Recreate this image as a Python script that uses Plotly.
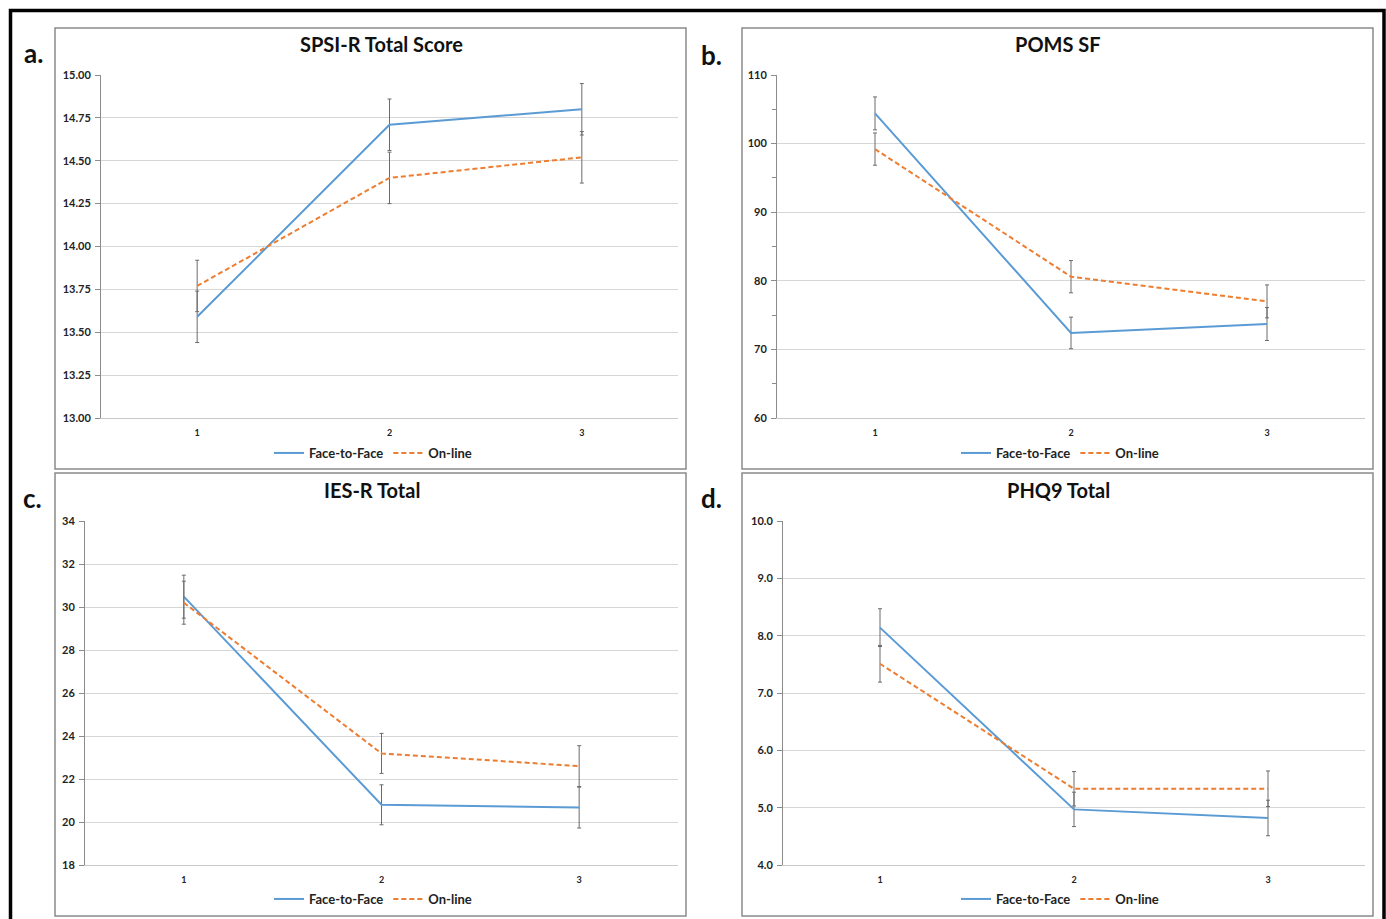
import plotly.graph_objects as go

W, H = 1386, 919

time_points = [1, 2, 3]
series_names = ["Face-to-Face", "On-line"]

# Panel a: SPSI-R Total Score
spsi_f2f = [13.59, 14.71, 14.80]
spsi_f2f_err = [0.15, 0.15, 0.15]
spsi_online = [13.77, 14.40, 14.52]
spsi_online_err = [0.15, 0.15, 0.15]

# Panel b: POMS SF
poms_f2f = [104.4, 72.4, 73.7]
poms_f2f_err = [2.4, 2.3, 2.4]
poms_online = [99.2, 80.6, 77.0]
poms_online_err = [2.35, 2.35, 2.4]

# Panel c: IES-R Total
ies_f2f = [30.48, 20.80, 20.67]
ies_f2f_err = [1.0, 0.93, 0.95]
ies_online = [30.20, 23.19, 22.60]
ies_online_err = [1.0, 0.93, 0.95]

# Panel d: PHQ9 Total
phq_f2f = [8.14, 4.97, 4.82]
phq_f2f_err = [0.33, 0.30, 0.31]
phq_online = [7.51, 5.33, 5.33]
phq_online_err = [0.32, 0.30, 0.31]

titles = ["SPSI-R Total Score", "POMS SF", "IES-R Total", "PHQ9 Total"]
letters = ["a.", "b.", "c.", "d."]

BLUE = "#5B9BD5"
ORANGE = "#ED7D31"
FONT = "Lato"


def px(x):
    return x / W


def py(y):
    return 1 - y / H


panels = [
    dict(f2f=spsi_f2f, f2fe=spsi_f2f_err, on=spsi_online, one=spsi_online_err,
         xd=(101, 678), yd=(75, 418), yr=[13, 15], dt=0.25, fmt=".2f", minor=None,
         box=(55, 28, 686, 469), title=(381, 44), letter=(33, 53), leg=(373, 453)),
    dict(f2f=poms_f2f, f2fe=poms_f2f_err, on=poms_online, one=poms_online_err,
         xd=(777, 1365), yd=(75, 418), yr=[60, 110], dt=10, fmt="d", minor=5,
         box=(742, 28, 1373, 469), title=(1058, 44), letter=(711, 55), leg=(1060, 453)),
    dict(f2f=ies_f2f, f2fe=ies_f2f_err, on=ies_online, one=ies_online_err,
         xd=(85, 678), yd=(521, 865), yr=[18, 34], dt=2, fmt="d", minor=None,
         box=(55, 473, 686, 916), title=(372, 490), letter=(32, 498), leg=(373, 899)),
    dict(f2f=phq_f2f, f2fe=phq_f2f_err, on=phq_online, one=phq_online_err,
         xd=(783, 1365), yd=(521, 865), yr=[4, 10], dt=1, fmt=".1f", minor=None,
         box=(742, 473, 1373, 916), title=(1058, 490), letter=(711, 498), leg=(1060, 899)),
]

fig = go.Figure()
layout = dict(
    width=W, height=H, margin=dict(l=0, r=0, t=0, b=0, pad=0, autoexpand=False),
    paper_bgcolor="white", plot_bgcolor="white",
    font=dict(family=FONT, color="#222222"),
    showlegend=True,
)
shapes = []
annotations = []

for i, p in enumerate(panels):
    n = i + 1
    xa = "x" if n == 1 else f"x{n}"
    ya = "y" if n == 1 else f"y{n}"
    lg = "legend" if n == 1 else f"legend{n}"
    for name, vals, errs, color, dash in [
        (series_names[0], p["f2f"], p["f2fe"], BLUE, "solid"),
        (series_names[1], p["on"], p["one"], ORANGE, "5px,3px"),
    ]:
        fig.add_trace(go.Scatter(
            x=time_points, y=vals, name=name, mode="lines",
            line=dict(color=color, width=2, dash=dash),
            error_y=dict(type="data", array=errs, visible=True,
                         color="#6b6b6b", thickness=1, width=2),
            xaxis=xa, yaxis=ya, legend=lg,
        ))
    xkey = "xaxis" if n == 1 else f"xaxis{n}"
    ykey = "yaxis" if n == 1 else f"yaxis{n}"
    layout[xkey] = dict(
        domain=[px(p["xd"][0]), px(p["xd"][1])], anchor=ya,
        range=[0.5, 3.5], tickvals=time_points, ticktext=[str(t) for t in time_points],
        showgrid=False, zeroline=False, showline=True, linecolor="#c8c8c8", linewidth=1,
        ticks="", tickfont=dict(size=9, family=FONT, color="#222222", weight="bold"),
        ticklabelstandoff=6, fixedrange=True, automargin=False,
    )
    yax = dict(
        domain=[py(p["yd"][1]), py(p["yd"][0])], anchor=xa,
        range=p["yr"], dtick=p["dt"], tick0=p["yr"][0], tickformat=p["fmt"],
        showgrid=True, gridcolor="#d6d6d6", gridwidth=1.3, zeroline=False,
        showline=True, linecolor="#8c8c8c", linewidth=1,
        ticks="outside", ticklen=5, tickcolor="#8c8c8c",
        tickfont=dict(size=11, family=FONT, color="#222222", weight="bold"),
        ticklabelstandoff=2, fixedrange=True, automargin=False,
    )
    if p["minor"]:
        yax["minor"] = dict(dtick=p["minor"], ticks="outside", ticklen=4,
                            tickcolor="#8c8c8c", showgrid=False)
    layout[ykey] = yax
    layout[lg] = dict(
        orientation="h", x=px(p["leg"][0]), y=py(p["leg"][1]),
        xanchor="center", yanchor="middle", xref="paper", yref="paper",
        font=dict(size=13, family=FONT, color="#222222", weight="bold"),
        bgcolor="rgba(0,0,0,0)", itemwidth=30, tracegroupgap=0,
    )
    b = p["box"]
    shapes.append(dict(type="rect", xref="paper", yref="paper",
                       x0=px(b[0]), y0=py(b[3]), x1=px(b[2]), y1=py(b[1]),
                       line=dict(color="#8a8a8a", width=1.5), layer="below"))
    annotations.append(dict(text=titles[i], x=px(p["title"][0]), y=py(p["title"][1]),
                            xref="paper", yref="paper", showarrow=False,
                            xanchor="center", yanchor="middle",
                            font=dict(size=20, family=FONT, color="#111111", weight="bold")))
    annotations.append(dict(text=letters[i], x=px(p["letter"][0]), y=py(p["letter"][1]),
                            xref="paper", yref="paper", showarrow=False,
                            xanchor="center", yanchor="middle",
                            font=dict(size=26, family=FONT, color="#111111", weight="bold")))

# outer black frame
shapes.append(dict(type="rect", xref="paper", yref="paper",
                   x0=px(10.5), y0=py(930), x1=px(1384), y1=py(10.5),
                   line=dict(color="black", width=3.5), layer="above"))

layout["shapes"] = shapes
layout["annotations"] = annotations
fig.update_layout(**layout)

post = (
    "document.documentElement.style.margin='0';"
    "document.documentElement.style.overflow='hidden';"
    "document.body.style.margin='0';"
    "document.body.style.overflow='hidden';"
    "var gd=document.getElementById('{plot_id}');"
    "gd.style.position='fixed';gd.style.left='0px';gd.style.top='0px';"
)
fig.write_html("out.html", config={"displayModeBar": False}, post_script=post)
